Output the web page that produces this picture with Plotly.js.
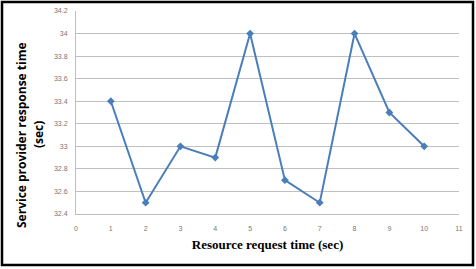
<!DOCTYPE html>
<html><head><meta charset="utf-8">
<script src="https://cdn.plot.ly/plotly-3.0.1.min.js"></script>
<style>html,body{margin:0;padding:0;background:#fff;}#chart{width:476px;height:269px;}</style>
</head><body><div id="chart"></div>
<script>
const requestTime = [1, 2, 3, 4, 5, 6, 7, 8, 9, 10];
const responseTime = [33.4, 32.5, 33.0, 32.9, 34.0, 32.7, 32.5, 34.0, 33.3, 33.0];
const xTicks = [0,1,2,3,4,5,6,7,8,9,10,11];
const yTicks = [32.4,32.6,32.8,33,33.2,33.4,33.6,33.8,34,34.2];
const yTickLabels = ['32.4','32.6','32.8','33','33.2','33.4','33.6','33.8','34','34.2'];

const L = 76, R = 17, T = 11, B = 55, W = 476, H = 269;
const pw = W - L - R, ph = H - T - B;
const px = v => (v - L) / pw;
const py = v => (H - B - v) / ph;

const trace = {
  x: requestTime, y: responseTime, type: 'scatter', mode: 'lines+markers',
  line: {color: '#4a7ebb', width: 2},
  marker: {symbol: 'diamond', size: 6, color: '#4a7ebb'},
  hoverinfo: 'skip'
};
const tickFont = {family: 'Liberation Sans', size: 7, color: '#777777'};
const layout = {
  width: W, height: H,
  margin: {l: L, r: R, t: T, b: B, pad: 0},
  paper_bgcolor: '#fff', plot_bgcolor: '#fff',
  showlegend: false,
  xaxis: {range: [0, 11], tickvals: xTicks, ticktext: xTicks.map(String), showgrid: false, zeroline: false,
    showline: true, linecolor: '#bfbfbf', linewidth: 1, ticks: '', tickfont: tickFont, ticklabelstandoff: 8,
    title: {text: 'Resource request time (sec)', standoff: 8,
      font: {family: '"Liberation Serif", "DejaVu Serif", serif', size: 13, color: '#000', weight: 'bold'}}},
  yaxis: {range: [32.4, 34.2], tickvals: yTicks, ticktext: yTickLabels, showgrid: true, gridcolor: '#c0c0c0', gridwidth: 1,
    zeroline: false, showline: true, linecolor: '#bfbfbf', linewidth: 1, ticks: '', tickfont: tickFont, ticklabelstandoff: 6},
  annotations: [
    {text: '<b>Service provider response time</b>', xref: 'paper', yref: 'paper', x: px(21), y: py(135),
     textangle: -90, showarrow: false, xanchor: 'center', yanchor: 'middle',
     font: {family: 'Open Sans', size: 12, color: '#000'}},
    {text: '<b>(sec)</b>', xref: 'paper', yref: 'paper', x: px(38), y: py(135),
     textangle: -90, showarrow: false, xanchor: 'center', yanchor: 'middle',
     font: {family: 'Open Sans', size: 12, color: '#000'}}
  ],
  shapes: [
    {type: 'rect', xref: 'paper', yref: 'paper', x0: px(2), x1: px(473), y0: py(265), y1: py(2),
     line: {color: '#000', width: 2.5}, fillcolor: 'rgba(0,0,0,0)', layer: 'above'}
  ]
};
Plotly.newPlot('chart', [trace], layout, {displayModeBar: false, staticPlot: true});
</script></body></html>
